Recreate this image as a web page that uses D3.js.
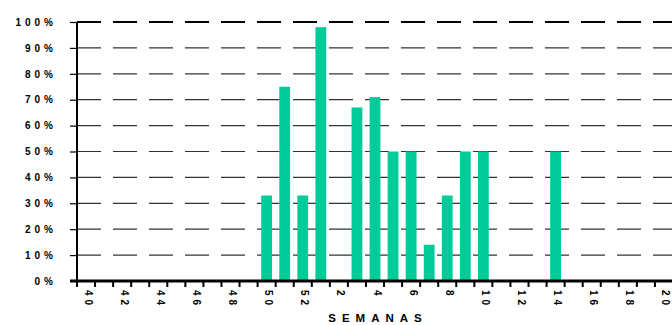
<!DOCTYPE html>
<html>
<head>
<meta charset="utf-8">
<script src="https://cdn.jsdelivr.net/npm/d3@7"></script>
<style>
  body { margin: 0; background: #fff; }
  svg { display: block; }
  text { font-family: "Liberation Sans", Arial, sans-serif; font-weight: bold; fill: #000; }
</style>
</head>
<body>
<svg id="chart"></svg>
<script>
// semanas epidemiologicas (40 a 52, depois 1 a 20)
var semanas = ['40','41','42','43','44','45','46','47','48','49','50','51','52',
  '1','2','3','4','5','6','7','8','9','10','11','12','13','14','15','16','17','18','19','20'];
var valores = [0,0,0,0,0,0,0,0,0,0,33,75,33,
  98,0,67,71,50,50,14,33,50,50,0,0,0,50,0,0,0,0,0,0];
var yTicks = [0,10,20,30,40,50,60,70,80,90,100];

var margin = {top: 22, right: 0, bottom: 44, left: 77},
  width = 596,
  height = 259;

var svg = d3.select('#chart')
  .attr('width', 672)
  .attr('height', 325);

var x = d3.scaleBand()
  .domain(semanas)
  .range([0, width])
  .paddingInner(0.4)
  .paddingOuter(0.2);

var y = d3.scaleLinear()
  .domain([0, 100])
  .range([height, 0]);

var g = svg.append('g')
  .attr('transform', 'translate(' + margin.left + ',' + margin.top + ')');

// linhas de grade
g.selectAll('.grid')
  .data(yTicks.slice(1))
  .enter().append('line')
  .attr('class', 'grid')
  .attr('x1', 0).attr('x2', width + 5)
  .attr('y1', function(d) { return y(d); })
  .attr('y2', function(d) { return y(d); })
  .attr('stroke', function(d) { return d === 100 ? '#000' : '#333'; })
  .attr('stroke-width', function(d) { return d === 100 ? 2 : 1.2; })
  .attr('stroke-dasharray', '24,12');

// eixo y
var yAxis = d3.axisLeft(y)
  .tickValues(yTicks)
  .tickSize(7)
  .tickFormat(function(d) { return d + '%'; });

var ya = g.append('g').call(yAxis);
ya.select('.domain').remove();
ya.selectAll('.tick line').attr('stroke', '#000').attr('stroke-width', 1.2);
ya.selectAll('.tick text')
  .attr('x', -20)
  .style('font-size', '10px')
  .style('letter-spacing', '4px')
  .style('font-family', '"Liberation Sans", Arial, sans-serif')
  .style('font-weight', 'bold');

g.append('line')
  .attr('x1', 0).attr('x2', 0)
  .attr('y1', 0).attr('y2', height + 2)
  .attr('stroke', '#000').attr('stroke-width', 2);

// barras
g.selectAll('.bar')
  .data(semanas.map(function(s, i) { return {semana: s, valor: valores[i]}; })
    .filter(function(d) { return d.valor > 0; }))
  .enter().append('rect')
  .attr('class', 'bar')
  .attr('x', function(d) { return x(d.semana); })
  .attr('y', function(d) { return y(d.valor); })
  .attr('width', x.bandwidth())
  .attr('height', function(d) { return height - y(d.valor); })
  .attr('fill', '#00cc99');

// eixo x
g.append('line')
  .attr('x1', -7).attr('x2', width + 5)
  .attr('y1', height).attr('y2', height)
  .attr('stroke', '#000').attr('stroke-width', 3);

var limites = semanas.map(function(s) { return x(s) - x.step() * x.paddingInner() / 2; });
limites.push(width);

g.selectAll('.xtick')
  .data(limites)
  .enter().append('line')
  .attr('class', 'xtick')
  .attr('x1', function(d) { return d; })
  .attr('x2', function(d) { return d; })
  .attr('y1', height).attr('y2', height + 6)
  .attr('stroke', '#000').attr('stroke-width', 2);

g.selectAll('.xlabel')
  .data(semanas.filter(function(s, i) { return i % 2 === 0; }))
  .enter().append('text')
  .attr('class', 'xlabel')
  .attr('transform', function(d) {
    return 'translate(' + (x(d) + x.bandwidth() / 2 + 2) + ',' + (height + 9) + ') rotate(90)';
  })
  .attr('dy', '0.35em')
  .style('font-size', '10px')
  .style('letter-spacing', '4px')
  .text(function(d) { return d; });

svg.append('text')
  .attr('x', margin.left + width / 2 + 3)
  .attr('y', 322)
  .attr('text-anchor', 'middle')
  .style('font-size', '11.5px')
  .style('letter-spacing', '6px')
  .text('SEMANAS');
</script>
</body>
</html>
